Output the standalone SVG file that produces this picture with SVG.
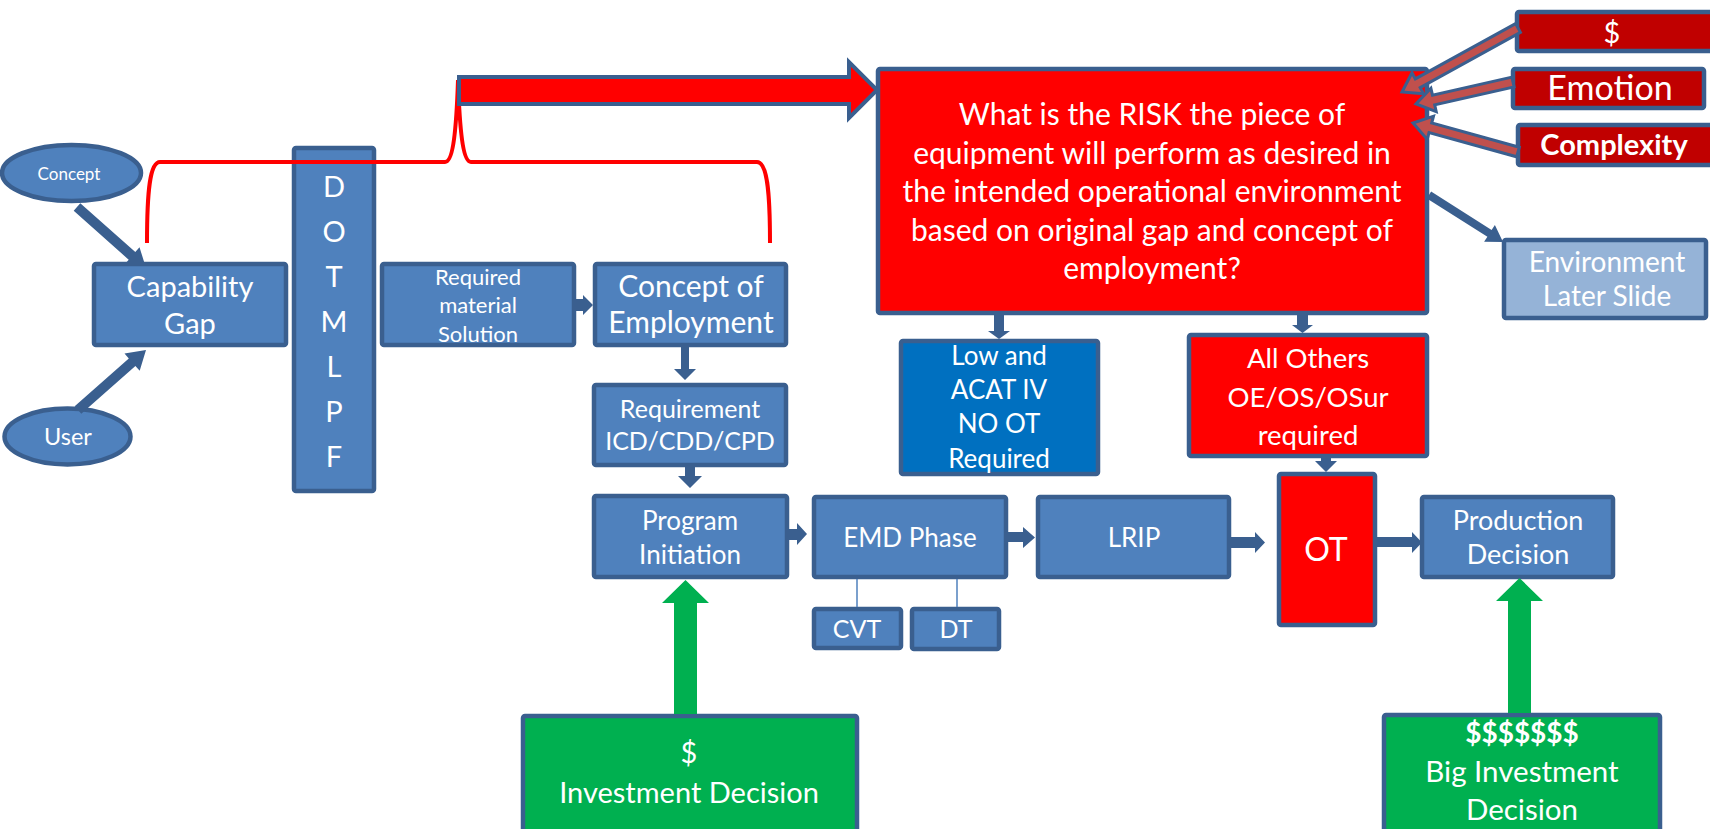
<svg xmlns="http://www.w3.org/2000/svg" width="1710" height="829" viewBox="0 0 1710 829">
<style>
.b{fill:#4F81BD;stroke:#3A5F8F;stroke-width:4.5}
.r{fill:#FF0000;stroke:#3A5F8F;stroke-width:4.5}
.dr{fill:#C00000;stroke:#3A5F8F;stroke-width:4.5}
.g{fill:#00B050;stroke:#3A5F8F;stroke-width:4.5}
.lb{fill:#95B3D7;stroke:#3A5F8F;stroke-width:4.5}
.bl{fill:#0070C0;stroke:#3A5F8F;stroke-width:4.5}
text{fill:#FFFFFF;font-family:Lato,"Open Sans","Liberation Sans",sans-serif;text-anchor:middle}
.ca{fill:#3A5F8F}
.fa{fill:#C0504D;stroke:#3A5F8F;stroke-width:3;stroke-linejoin:miter}
.ga{fill:#00B050}
.thin{stroke:#4F81BD;stroke-width:1.5;fill:none}
</style>
<defs>
<clipPath id="clipTop"><rect x="0" y="0" width="300" height="262"/></clipPath>
<clipPath id="clipBot"><rect x="0" y="347" width="300" height="200"/></clipPath>
</defs>
<rect width="1710" height="829" fill="#FFFFFF"/>

<g id="concept"><ellipse cx="71.5" cy="173" rx="69.5" ry="28" class="b"/><text x="69" y="180" font-size="17">Concept</text></g>
<g id="user"><ellipse cx="67.5" cy="436.5" rx="63" ry="28" class="b"/><text x="68" y="445" font-size="23.5">User</text></g>
<g id="capgap"><rect x="94" y="264" width="192" height="81" rx="2" class="b"/><text x="190" y="297" font-size="29">Capability</text><text x="190" y="334" font-size="29">Gap</text></g>
<g id="dotmlpf"><rect x="294" y="148" width="80" height="343" rx="2" class="b"/>
<text x="334" y="197" font-size="29">D</text><text x="334" y="242" font-size="29">O</text><text x="334" y="287" font-size="29">T</text><text x="334" y="332" font-size="29">M</text><text x="334" y="377" font-size="29">L</text><text x="334" y="422" font-size="29">P</text><text x="334" y="467" font-size="29">F</text></g>
<g id="reqmat"><rect x="382" y="264" width="192" height="81" rx="2" class="b"/><text x="478" y="285" font-size="22">Required</text><text x="478" y="313" font-size="22">material</text><text x="478" y="342" font-size="22">Solution</text></g>
<g id="coe"><rect x="595" y="264" width="191" height="81" rx="2" class="b"/><text x="691" y="297" font-size="30">Concept of</text><text x="691" y="333" font-size="30">Employment</text></g>
<g id="requirement"><rect x="594" y="385" width="192" height="80" rx="2" class="b"/><text x="690" y="418" font-size="25">Requirement</text><text x="690" y="450" font-size="25">ICD/CDD/CPD</text></g>
<g id="program"><rect x="594" y="496" width="193" height="81" rx="2" class="b"/><text x="690" y="530" font-size="26">Program</text><text x="690" y="564" font-size="26">Initiation</text></g>
<g id="emd"><rect x="814" y="497" width="192" height="80" rx="2" class="b"/><text x="910" y="547" font-size="26">EMD Phase</text></g>
<g id="cvt"><rect x="814" y="609" width="87" height="39" rx="2" class="b"/><text x="857" y="638" font-size="25">CVT</text></g>
<g id="dt"><rect x="912" y="609" width="87" height="40" rx="2" class="b"/><text x="956" y="638" font-size="25">DT</text></g>
<g id="lrip"><rect x="1038" y="497" width="191" height="80" rx="2" class="b"/><text x="1134" y="547" font-size="26">LRIP</text></g>
<g id="ot"><rect x="1279" y="474" width="96" height="151" rx="2" class="r"/><text x="1326" y="561" font-size="32">OT</text></g>
<g id="production"><rect x="1422" y="497" width="191" height="80" rx="2" class="b"/><text x="1518" y="530" font-size="27">Production</text><text x="1518" y="564" font-size="27">Decision</text></g>
<g id="risk"><rect x="878" y="69" width="549" height="244" rx="2" class="r"/>
<text x="1152" y="125" font-size="30">What is the RISK the piece of</text>
<text x="1152" y="163.5" font-size="30">equipment will perform as desired in</text>
<text x="1152" y="202" font-size="30">the intended operational environment</text>
<text x="1152" y="240.5" font-size="30">based on original gap and concept of</text>
<text x="1152" y="279" font-size="30">employment?</text></g>
<g id="low"><rect x="901" y="341" width="197" height="133" rx="2" class="bl"/><text x="999" y="365" font-size="26">Low and</text><text x="999" y="399" font-size="26">ACAT IV</text><text x="999" y="433" font-size="26">NO OT</text><text x="999" y="468" font-size="26">Required</text></g>
<g id="allothers"><rect x="1189" y="335" width="238" height="121" rx="2" class="r"/><text x="1308" y="368" font-size="27.5">All Others</text><text x="1308" y="407" font-size="27.5">OE/OS/OSur</text><text x="1308" y="445" font-size="27.5">required</text></g>
<g id="money"><rect x="1517" y="12" width="200" height="39" rx="2" class="dr"/><text x="1612" y="43" font-size="29">$</text></g>
<g id="emotion"><rect x="1513" y="69" width="191" height="39" rx="2" class="dr"/><text x="1610" y="100" font-size="34">Emotion</text></g>
<g id="complexity"><rect x="1518" y="125" width="200" height="40" rx="2" class="dr"/><text x="1614" y="155" font-size="29" font-weight="bold">Complexity</text></g>
<g id="environment"><rect x="1504" y="240" width="202" height="78" rx="2" class="lb"/><text x="1607" y="272" font-size="28">Environment</text><text x="1607" y="306" font-size="28">Later Slide</text></g>
<g id="investment"><rect x="523" y="716" width="334" height="130" rx="2" class="g"/><text x="689" y="763" font-size="29">$</text><text x="689" y="803" font-size="29">Investment Decision</text></g>
<g id="biginvestment"><rect x="1384" y="715" width="276" height="130" rx="2" class="g"/><text x="1522" y="743" font-size="28" font-weight="bold">$$$$$$$</text><text x="1522" y="782" font-size="29.5">Big Investment</text><text x="1522" y="820" font-size="29.5">Decision</text></g>

<g id="connectors">
<polygon class="ca" clip-path="url(#clipTop)" points="73.7,210.8 128.7,259.7 124.5,264.6 146,268 139.5,247.2 135.3,252.1 80.3,203.2"/>
<polygon class="ca" clip-path="url(#clipBot)" points="81.3,413.8 135.4,366 139.7,370.8 146,350 124.5,353.6 128.8,358.5 74.7,406.3"/>
<path d="M147,243 C147,190 150,162 160,162 L445,162 C452,162 456,140 458,80 C460,140 464,162 471,162 L757,162 C767,162 770,190 770,243" fill="none" stroke="#FF0000" stroke-width="4"/>
<polygon points="459,77 849,77 849,62 877,90 849,118 849,104 459,104" fill="#FF0000" stroke="#3A5F8F" stroke-width="4"/>
<polygon class="ca" points="576,299 583,299 583,295 593,305 583,315 583,311 576,311"/>
<polygon class="ca" points="681,347 689,347 689,369 696,369 685,380 674,369 681,369"/>
<polygon class="ca" points="685,465 695,465 695,476 702,476 690,488 678,476 685,476"/>
<polygon class="ca" points="789,529 797,529 797,523 807,534 797,545 797,540 789,540"/>
<polygon class="ca" points="1008,532 1023,532 1023,527 1035,537.5 1023,548 1023,542 1008,542"/>
<polygon class="ca" points="1231,537 1255,537 1255,532 1265,542.5 1255,553 1255,548 1231,548"/>
<polygon class="ca" points="1377,537 1412,537 1412,532 1422,542.5 1412,553 1412,547 1377,547"/>
<polygon class="ca" points="994,315 1004,315 1004,331 1010,331 999,339 988,331 994,331"/>
<polygon class="ca" points="1297,315 1308,315 1308,325 1313,325 1302.5,333 1292,325 1297,325"/>
<polygon class="ca" points="1321,458 1331,458 1331,461 1337,461 1326,472 1315,461 1321,461"/>
<polygon class="ca" points="1426.9,198.4 1487.4,236.8 1484.1,241.8 1503,242 1494.9,225 1491.6,230 1431.1,191.6"/>
<polygon class="fa" points="1515.6,23.6 1415.3,78.9 1412,72.8 1402,92 1423.6,93.8 1420.2,87.7 1520.4,32.4"/>
<polygon class="fa" points="1511.9,77.1 1432.5,95.2 1430.9,88.3 1416,104 1436.2,111.7 1434.7,104.9 1514.1,86.9"/>
<polygon class="fa" points="1519.3,147.2 1431.7,123 1433.5,116.2 1413,123 1427.2,139.4 1429,132.6 1516.7,156.8"/>
<line class="thin" x1="857" y1="579" x2="857" y2="607"/>
<line class="thin" x1="957" y1="579" x2="957" y2="607"/>
<polygon class="ga" points="674,714 674,603 662,603 685.5,580 709,603 697,603 697,714"/>
<polygon class="ga" points="1508,713 1508,601 1496,601 1519.5,578 1543,601 1531,601 1531,713"/>
</g>
</svg>
